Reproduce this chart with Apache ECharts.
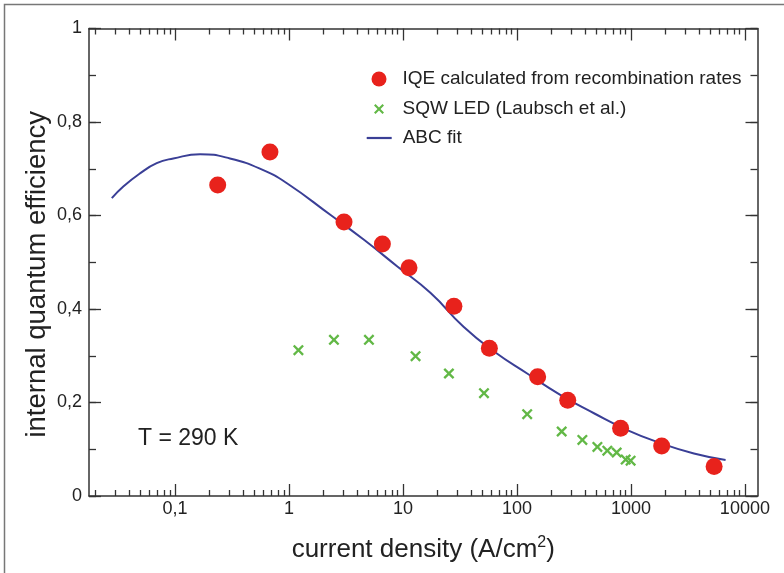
<!DOCTYPE html>
<html>
<head>
<meta charset="utf-8">
<title>IQE vs current density</title>
<script src="https://cdn.jsdelivr.net/npm/echarts@6/dist/echarts.min.js"></script>
<style>
  html, body { margin: 0; padding: 0; background: #fff; }
  #main { width: 784px; height: 573px; }
</style>
</head>
<body>
<div id="main"></div>
<script>
// IQE calculated from recombination rates (red dots)
var iqeX = [0.237, 0.681, 3.04, 6.6, 11.3, 28, 57.3, 152, 279, 812, 1862, 5370];
var iqeY = [0.665, 0.736, 0.586, 0.539, 0.488, 0.406, 0.316, 0.255, 0.205, 0.145, 0.107, 0.063];
// SQW LED (Laubsch et al.) (green crosses)
var sqwX = [1.21, 2.48, 5.03, 12.9, 25.3, 51.4, 123, 247, 375, 508, 621, 750, 900, 994];
var sqwY = [0.312, 0.334, 0.334, 0.299, 0.262, 0.220, 0.175, 0.138, 0.120, 0.105, 0.097, 0.093, 0.078, 0.0755];
// ABC fit, points
var fitX = [0.0279, 0.0352, 0.0493, 0.0691, 0.0966, 0.166, 0.303, 0.595, 0.96, 2.32, 4.55, 8.93, 17.5, 34, 63, 123, 242, 474, 930, 1823, 3570, 6770];
var fitY = [0.637, 0.662, 0.690, 0.712, 0.722, 0.731, 0.722, 0.697, 0.669, 0.601, 0.548, 0.491, 0.434, 0.362, 0.309, 0.262, 0.216, 0.177, 0.141, 0.113, 0.091, 0.077];

var majorX = [0.1, 1, 10, 100, 1000, 10000];
var minorX = [];
[0.01, 0.1, 1, 10, 100, 1000].forEach(function (d) {
  for (var k = 2; k <= 9; k++) minorX.push(+(d * k).toPrecision(6));
});

var names = ['IQE calculated from recombination rates', 'SQW LED (Laubsch et al.)', 'ABC fit'];

function pairs(xs, ys) {
  return xs.map(function (x, i) { return [x, ys[i]]; });
}

var FONT = 'Liberation Sans';
var INK = '#222';
var crossPath = 'path://M0,1.5 L1.5,0 L5,3.5 L8.5,0 L10,1.5 L6.5,5 L10,8.5 L8.5,10 L5,6.5 L1.5,10 L0,8.5 L3.5,5 Z';

function xAxisFor(pos, ticks, len, showLine, showLabel) {
  return {
    type: 'log', position: pos, min: 0.0176, max: 12900,
    axisLine: { show: showLine, onZero: false, lineStyle: { color: '#333', width: 1.5 } },
    axisTick: { show: true, inside: true, length: len, customValues: ticks, lineStyle: { color: '#333', width: 1.3 } },
    axisLabel: {
      show: showLabel, customValues: majorX, margin: 4,
      color: INK, fontFamily: FONT, fontSize: 18,
      formatter: function (v) { return String(+(+v).toPrecision(6)).replace('.', ','); }
    },
    splitLine: { show: false }
  };
}

function yAxisFor(pos, interval, len, showLine, showLabel) {
  return {
    type: 'value', position: pos, min: 0, max: 1, interval: interval,
    axisLine: { show: showLine, onZero: false, lineStyle: { color: '#333', width: 1.5 } },
    axisTick: { show: true, inside: true, length: len, lineStyle: { color: '#333', width: 1.3 } },
    axisLabel: {
      show: showLabel, margin: 7, color: INK, fontFamily: FONT, fontSize: 18,
      formatter: function (v) {
        if (v === 0) return '0';
        if (v === 1) return '1';
        return v.toFixed(1).replace('.', ',');
      }
    },
    splitLine: { show: false }
  };
}

var xBottom = xAxisFor('bottom', majorX, 12, true, true);
xBottom.name = '{t|current density (A/cm}{s|2}{t|)}';
xBottom.nameLocation = 'middle';
xBottom.nameGap = 39;
xBottom.nameMoveOverlap = false;
xBottom.nameTextStyle = {
  rich: {
    t: { fontFamily: FONT, fontSize: 26, color: INK },
    s: { fontFamily: FONT, fontSize: 16, color: INK, verticalAlign: 'top', padding: [0, 0, 14, 0] }
  }
};

var yLeft = yAxisFor('left', 0.2, 12, true, true);
yLeft.name = 'internal quantum efficiency';
yLeft.nameLocation = 'middle';
yLeft.nameGap = 38;
yLeft.nameMoveOverlap = false;
yLeft.nameTextStyle = { fontFamily: FONT, fontSize: 27.5, color: INK, padding: [0, 24, 0, 0] };

// legend text pushed a little further from its icon
var legendText = {
  rich: { t: { fontFamily: FONT, fontSize: 19, color: INK, padding: [0, 0, 0, 6] } }
};
function legendLabel(n) { return '{t|' + n + '}'; }

var chart = echarts.init(document.getElementById('main'));
var option = {
  backgroundColor: '#fff',
  animation: false,
  grid: { left: 89, right: 26.5, top: 28.5, bottom: 77, containLabel: false },
  xAxis: [
    xBottom,
    xAxisFor('bottom', minorX, 6, false, false),
    xAxisFor('top', majorX, 12, true, false),
    xAxisFor('top', minorX, 6, false, false)
  ],
  yAxis: [
    yLeft,
    yAxisFor('left', 0.1, 7, false, false),
    yAxisFor('right', 0.2, 12, true, false),
    yAxisFor('right', 0.1, 7, false, false)
  ],
  legend: [
    { data: [{ name: names[0], icon: 'circle' }], orient: 'vertical', left: 371.5, top: 69.5, padding: 0,
      itemWidth: 25, itemHeight: 15, selectedMode: false, textStyle: legendText, formatter: legendLabel },
    { data: [{ name: names[1], icon: crossPath }], orient: 'vertical', left: 374, top: 99.5, padding: 0,
      itemWidth: 25, itemHeight: 10, selectedMode: false, textStyle: legendText, formatter: legendLabel },
    { data: [{ name: names[2], icon: 'rect' }], orient: 'vertical', left: 366.7, top: 128.5, padding: 0,
      itemWidth: 25, itemHeight: 2.2, selectedMode: false, textStyle: legendText, formatter: legendLabel }
  ],
  graphic: [
    { type: 'rect', shape: { x: 4.5, y: 4.5, width: 820, height: 620 },
      style: { fill: 'none', stroke: '#777', lineWidth: 1.5 }, silent: true },
    { type: 'text', left: 138, top: 427,
      style: { text: 'T = 290 K', fontFamily: FONT, fontSize: 23, fill: INK } }
  ],
  series: [
    {
      name: names[2], type: 'line', z: 1,
      data: pairs(fitX, fitY), smooth: true, symbol: 'none',
      lineStyle: { color: '#3a3f96', width: 2 }, itemStyle: { color: '#3a3f96' }
    },
    {
      name: names[1], type: 'scatter', z: 2,
      data: pairs(sqwX, sqwY), symbol: crossPath, symbolSize: 11,
      itemStyle: { color: '#62b846', opacity: 1 }
    },
    {
      name: names[0], type: 'scatter', z: 3,
      data: pairs(iqeX, iqeY), symbol: 'circle', symbolSize: 17,
      itemStyle: { color: '#e8221c', opacity: 1 }
    }
  ]
};
chart.setOption(option);
</script>
</body>
</html>
